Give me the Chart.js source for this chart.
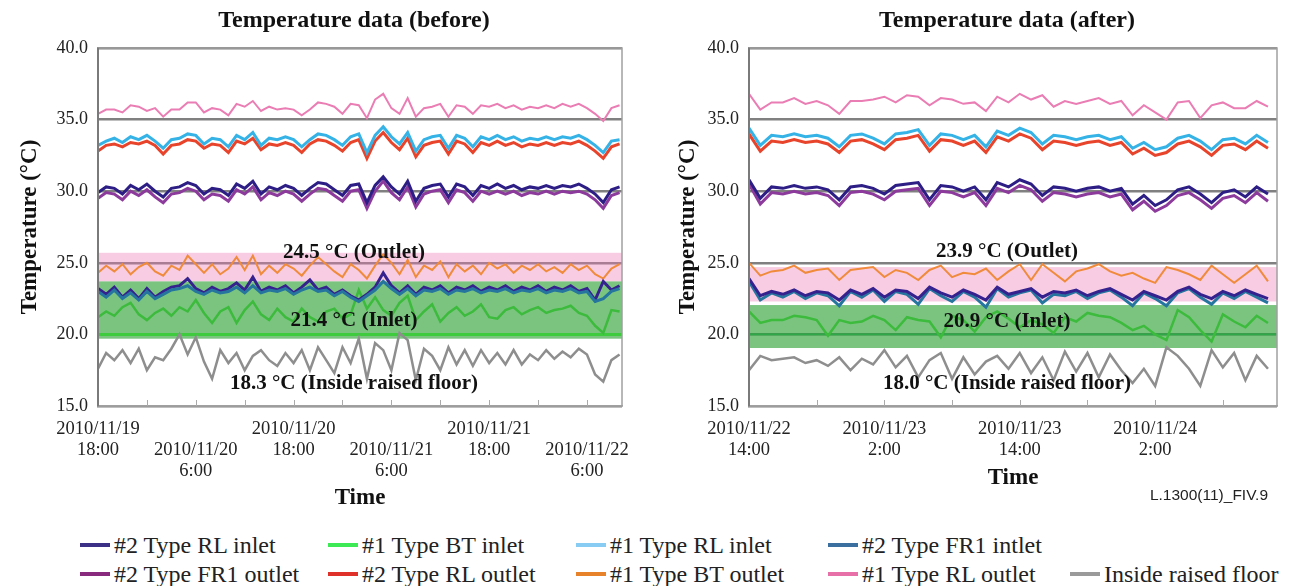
<!DOCTYPE html>
<html>
<head>
<meta charset="utf-8">
<script src="https://cdn.jsdelivr.net/npm/chart.js@4.4.1/dist/chart.umd.min.js"></script>
<style>
  body { margin: 0; background: #fff; width: 1292px; height: 586px; overflow: hidden; position: relative; font-family: "Liberation Serif", serif; }
  #left { position: absolute; left: 0; top: 0; width: 645px; height: 520px; }
  #right { position: absolute; left: 645px; top: 0; width: 647px; height: 520px; }
  .item { position: absolute; display: flex; align-items: center; font-size: 24px; line-height: 28px; color: #222; white-space: nowrap; }
  .swatch { width: 30px; height: 4px; margin-right: 4px; }
  #figid { position: absolute; right: 24px; top: 486px; font: 15.5px "Liberation Sans", sans-serif; color: #222; }
</style>
</head>
<body>
<div id="left"><canvas id="before"></canvas></div>
<div id="right"><canvas id="after"></canvas></div>
<div id="legend"></div>
<div id="figid">L.1300(11)_FIV.9</div>
<script>
const FONT = 'Liberation Serif'

// series shared by both panels (top navy line has no entry of its own in the legend)
const seriesNames = ['#1 Type RL outlet', '#1 Type RL inlet', '#2 Type RL outlet', '#2 Type RL (upper)', '#2 Type FR1 outlet',
  '#1 Type BT outlet', '#2 Type RL inlet', '#2 Type FR1 intlet', '#1 Type BT inlet', 'Inside raised floor']
const seriesColors = ['#ea7db3', '#35b2e6', '#e8432b', '#2d1e86', '#8c3b9c', '#f08b3c', '#36228e', '#25759f', '#3dbb3d', '#8e8e8e']
const seriesWidths = [2, 3, 3, 3, 3, 2, 3, 3, 2.5, 2.5]

// ---- before: one sample per hour from 2010/11/19 18:00 ----
const before_RL1_out = [35.4, 35.7, 35.7, 35.5, 36.0, 35.9, 35.6, 35.8, 35.2, 35.7,
  35.7, 36.2, 36.2, 35.5, 35.8, 35.7, 35.3, 36.1, 35.9, 36.3,
  35.6, 35.9, 35.7, 35.8, 35.7, 35.3, 35.7, 36.2, 36.1, 35.9,
  35.4, 36.1, 36.0, 35.1, 36.4, 36.8, 35.8, 35.4, 36.5, 35.2,
  35.8, 35.9, 36.1, 35.2, 36.0, 35.9, 35.4, 36.0, 35.9, 36.1,
  35.8, 36.0, 35.7, 35.9, 35.8, 36.0, 35.8, 36.1, 35.9, 36.1,
  35.8, 35.4, 34.9, 35.8, 36.0]
const before_RL1_in = [33.2, 33.5, 33.7, 33.4, 33.8, 33.6, 33.9, 33.5, 33.0, 33.6,
  33.7, 34.0, 33.9, 33.3, 33.7, 33.6, 33.1, 33.9, 33.6, 34.1,
  33.2, 33.7, 33.6, 33.8, 33.6, 33.1, 33.6, 34.0, 33.9, 33.6,
  33.2, 33.8, 34.0, 32.7, 33.9, 34.5, 33.8, 33.3, 34.1, 32.8,
  33.6, 33.8, 33.9, 33.0, 33.9, 33.7, 33.1, 33.8, 33.6, 33.9,
  33.6, 33.8, 33.5, 33.7, 33.6, 33.8, 33.6, 33.8, 33.7, 33.9,
  33.6, 33.2, 32.7, 33.5, 33.6]
const before_RL2_out = [32.8, 33.2, 33.3, 33.1, 33.4, 33.3, 33.5, 33.2, 32.6, 33.2,
  33.3, 33.6, 33.5, 33.0, 33.3, 33.2, 32.7, 33.5, 33.3, 33.7,
  32.9, 33.3, 33.2, 33.4, 33.2, 32.7, 33.3, 33.6, 33.5, 33.2,
  32.8, 33.4, 33.6, 32.3, 33.5, 34.1, 33.4, 32.9, 33.7, 32.4,
  33.2, 33.4, 33.5, 32.6, 33.5, 33.3, 32.7, 33.4, 33.2, 33.5,
  33.2, 33.4, 33.1, 33.3, 33.2, 33.4, 33.2, 33.4, 33.3, 33.5,
  33.2, 32.8, 32.3, 33.1, 33.3]
const before_RL2_hi = [29.9, 30.3, 30.2, 29.8, 30.4, 30.1, 30.5, 30.0, 29.6, 30.2,
  30.3, 30.6, 30.4, 29.8, 30.2, 30.1, 29.7, 30.5, 30.2, 30.7,
  29.8, 30.3, 30.1, 30.4, 30.2, 29.7, 30.2, 30.6, 30.5, 30.1,
  29.7, 30.4, 30.5, 29.2, 30.4, 31.0, 30.3, 29.8, 30.7, 29.3,
  30.2, 30.4, 30.5, 29.6, 30.5, 30.3, 29.7, 30.4, 30.2, 30.5,
  30.2, 30.4, 30.1, 30.3, 30.2, 30.4, 30.2, 30.4, 30.3, 30.5,
  30.2, 29.8, 29.2, 30.1, 30.3]
const before_FR1_out = [29.5, 29.9, 29.8, 29.4, 30.0, 29.7, 30.1, 29.6, 29.2, 29.8,
  29.9, 30.2, 30.0, 29.4, 29.8, 29.7, 29.3, 30.1, 29.8, 30.3,
  29.4, 29.9, 29.7, 30.0, 29.8, 29.3, 29.8, 30.2, 30.1, 29.7,
  29.3, 30.0, 30.1, 28.8, 30.0, 30.7, 29.9, 29.4, 30.3, 28.9,
  29.8, 30.0, 30.1, 29.2, 30.1, 29.9, 29.3, 30.0, 29.8, 30.0,
  29.8, 30.0, 29.7, 29.9, 29.8, 30.0, 29.8, 30.0, 29.9, 30.0,
  29.8, 29.4, 28.8, 29.7, 29.9]
const before_BT1_out = [24.3, 24.8, 24.4, 24.9, 24.2, 24.7, 25.0, 24.4, 24.1, 24.8,
  24.5, 25.5, 24.9, 24.3, 24.9, 24.2, 24.6, 25.4, 24.5, 25.5,
  24.2, 24.8, 24.3, 24.9, 24.6, 24.1, 24.8, 25.4, 24.9, 24.4,
  24.0, 24.9, 24.5, 23.9, 24.8, 25.6, 25.0, 24.2, 25.2, 24.0,
  24.8, 24.5, 25.1, 24.0, 24.9, 24.4, 24.8, 24.2, 25.0, 24.6,
  24.9, 24.3, 24.8, 24.5, 24.9, 24.4, 24.7, 24.3, 24.9, 24.5,
  24.8, 24.2, 23.9, 24.6, 24.9]
const before_RL2_in = [23.2, 22.8, 23.3, 22.6, 23.1, 22.5, 23.2, 22.6, 23.0, 23.3,
  23.4, 23.9, 23.2, 22.9, 23.3, 23.0, 23.2, 23.6, 23.1, 24.0,
  23.0, 23.3, 23.1, 23.4, 22.9, 23.3, 23.8, 23.1, 23.3, 22.8,
  23.1, 22.7, 22.4, 22.8, 23.3, 24.3, 23.4, 22.9, 23.4, 22.8,
  23.3, 23.1, 23.4, 22.9, 23.3, 23.1, 23.4, 23.0, 23.3, 23.1,
  23.4, 23.0, 23.3, 23.1, 23.4, 23.0, 23.3, 23.1, 23.4, 23.0,
  23.2, 22.4, 23.7, 23.1, 23.4]
const before_FR1_in = [23.0, 22.6, 23.1, 22.5, 22.9, 22.4, 23.0, 22.5, 22.8, 23.1,
  23.2, 23.4, 23.0, 22.8, 23.1, 22.9, 23.0, 23.3, 22.9, 23.4,
  22.9, 23.1, 23.0, 23.2, 22.8, 23.1, 23.3, 23.0, 23.1, 22.7,
  23.0, 22.6, 22.3, 22.7, 23.1, 23.7, 23.2, 22.8, 23.2, 22.7,
  23.1, 23.0, 23.2, 22.8, 23.1, 23.0, 23.2, 22.9, 23.1, 23.0,
  23.2, 22.9, 23.1, 23.0, 23.2, 22.9, 23.1, 23.0, 23.2, 22.9,
  23.0, 22.3, 22.5, 23.0, 23.2]
const before_BT1_in = [21.2, 21.6, 21.3, 21.9, 22.2, 21.4, 21.0, 21.5, 21.8, 21.3,
  21.9, 21.6, 22.4, 21.5, 20.8, 21.6, 21.9, 20.8, 21.7, 22.3,
  21.4, 21.0, 21.8, 21.2, 20.9, 21.8, 21.2, 20.9, 21.6, 21.8,
  21.1, 21.4, 23.1, 21.8, 22.6, 21.7, 21.3, 22.2, 22.7, 21.0,
  21.6, 22.1, 20.9, 21.5, 21.9, 21.3, 21.6, 22.1, 21.2, 21.1,
  21.7, 21.9, 21.4, 21.7, 21.9, 21.5, 21.7, 21.8, 22.0, 21.5,
  21.3, 20.6, 20.1, 21.7, 21.6]
const before_floor = [17.6, 18.7, 18.2, 18.9, 18.0, 19.0, 17.5, 18.4, 18.2, 19.0,
  20.0, 18.6, 19.8, 18.1, 16.9, 18.9, 18.0, 18.7, 17.5, 18.5,
  18.9, 18.2, 17.8, 18.7, 18.0, 18.9, 17.5, 19.1, 18.2, 17.3,
  19.1, 18.0, 19.7, 16.9, 19.4, 18.9, 17.5, 20.1, 19.6, 16.8,
  19.0, 18.5, 17.5, 19.1, 17.9, 18.9, 17.8, 18.9, 18.0, 18.7,
  17.9, 18.9, 17.9, 18.6, 18.2, 18.9, 18.3, 18.8, 18.4, 19.0,
  18.6, 17.2, 16.7, 18.2, 18.6]

// ---- after: one sample per hour from 2010/11/22 14:00 ----
const after_RL1_out = [36.8, 35.7, 36.2, 36.2, 36.5, 36.1, 36.3, 36.0, 35.4, 36.3,
  36.3, 36.4, 36.6, 36.2, 36.7, 36.6, 36.0, 36.5, 36.4, 36.1,
  36.2, 35.6, 36.6, 36.2, 36.8, 36.4, 36.7, 35.9, 36.3, 36.1,
  36.3, 36.5, 36.1, 36.3, 35.3, 36.0, 35.5, 35.0, 36.2, 36.3,
  35.1, 36.0, 36.2, 35.8, 35.8, 36.3, 35.9]
const after_RL1_in = [34.4, 33.2, 33.9, 33.8, 34.0, 33.8, 33.9, 33.7, 33.1, 33.9,
  34.0, 33.7, 33.3, 34.0, 34.1, 34.3, 33.2, 34.0, 33.9, 33.6,
  33.9, 33.1, 34.2, 33.9, 34.4, 34.1, 33.3, 33.9, 33.8, 33.6,
  33.8, 33.9, 33.6, 33.8, 33.0, 33.4, 32.9, 33.1, 33.7, 33.9,
  33.5, 32.9, 33.6, 33.7, 33.3, 33.9, 33.4]
const after_RL2_out = [34.0, 32.8, 33.5, 33.4, 33.6, 33.4, 33.5, 33.3, 32.7, 33.5,
  33.6, 33.3, 32.9, 33.6, 33.7, 33.9, 32.8, 33.6, 33.5, 33.2,
  33.5, 32.7, 33.8, 33.5, 34.0, 33.7, 32.9, 33.5, 33.4, 33.2,
  33.4, 33.5, 33.2, 33.4, 32.6, 33.0, 32.5, 32.7, 33.3, 33.5,
  33.1, 32.5, 33.2, 33.3, 32.9, 33.5, 33.0]
const after_RL2_hi = [30.8, 29.5, 30.3, 30.2, 30.4, 30.2, 30.3, 30.1, 29.4, 30.3,
  30.4, 30.2, 29.8, 30.4, 30.5, 30.6, 29.4, 30.4, 30.3, 30.0,
  30.3, 29.4, 30.6, 30.3, 30.8, 30.5, 29.7, 30.3, 30.2, 30.0,
  30.2, 30.3, 30.0, 30.2, 29.1, 29.7, 29.0, 29.4, 30.1, 30.3,
  29.8, 29.2, 29.9, 30.1, 29.6, 30.3, 29.8]
const after_FR1_out = [30.5, 29.1, 29.9, 29.8, 30.0, 29.8, 29.9, 29.7, 29.0, 29.9,
  30.0, 29.8, 29.4, 30.0, 30.1, 30.2, 29.0, 30.0, 29.9, 29.6,
  29.9, 29.0, 30.2, 29.9, 30.4, 30.1, 29.3, 29.9, 29.8, 29.6,
  29.8, 29.9, 29.6, 29.8, 28.7, 29.3, 28.6, 29.0, 29.7, 29.9,
  29.4, 28.8, 29.5, 29.7, 29.2, 29.9, 29.3]
const after_BT1_out = [25.0, 24.1, 24.4, 24.5, 24.8, 24.3, 24.5, 24.6, 23.8, 24.5,
  24.6, 24.7, 24.0, 24.5, 24.3, 23.8, 24.5, 24.8, 24.0, 24.3,
  24.2, 24.6, 23.8, 24.4, 24.9, 23.8, 24.9, 24.3, 23.7, 24.4,
  24.6, 24.9, 24.4, 24.1, 24.3, 23.9, 23.6, 24.7, 24.5, 24.2,
  23.8, 24.8, 24.2, 23.6, 24.2, 24.8, 23.7]
const after_RL2_in = [23.9, 22.7, 23.0, 22.8, 23.1, 22.7, 23.0, 22.9, 22.4, 23.1,
  22.8, 23.2, 22.6, 23.1, 23.0, 22.5, 23.3, 22.9, 22.6, 23.1,
  22.8, 22.4, 23.3, 22.8, 23.0, 23.2, 22.6, 23.0, 22.9, 23.1,
  22.7, 23.0, 23.2, 22.8, 22.4, 23.0, 22.7, 22.4, 23.0, 23.3,
  22.8, 22.5, 23.0, 22.7, 23.1, 22.8, 22.5]
const after_FR1_in = [23.7, 22.4, 22.9, 22.6, 23.0, 22.5, 22.9, 22.7, 22.0, 23.0,
  22.6, 23.1, 22.3, 23.0, 22.8, 22.1, 23.2, 22.7, 22.3, 23.0,
  22.6, 21.9, 23.2, 22.6, 22.9, 23.1, 22.2, 22.8, 22.7, 23.0,
  22.5, 22.9, 23.1, 22.6, 22.0, 22.9, 22.5, 22.0, 22.9, 23.2,
  22.6, 22.1, 22.9, 22.5, 23.0, 22.6, 22.2]
const after_BT1_in = [21.6, 20.8, 21.0, 21.0, 21.3, 21.2, 21.0, 19.9, 21.0, 20.8,
  20.9, 21.3, 21.0, 20.3, 21.2, 21.0, 20.9, 19.8, 21.3, 21.0,
  20.2, 21.2, 21.6, 21.1, 20.5, 21.0, 20.7, 20.1, 21.2, 20.9,
  21.5, 21.3, 21.2, 20.8, 20.3, 20.6, 20.0, 19.6, 21.7, 21.2,
  20.3, 19.5, 21.4, 20.9, 20.5, 21.3, 20.8]
const after_floor = [17.5, 18.5, 18.2, 18.3, 18.4, 18.0, 18.2, 17.8, 18.4, 17.5,
  18.3, 17.9, 18.9, 17.7, 18.5, 17.0, 18.2, 18.7, 16.9, 18.4,
  17.2, 18.1, 18.5, 17.6, 18.7, 17.3, 18.4, 16.8, 18.8, 17.4,
  18.7, 17.0, 18.6, 17.5, 16.6, 17.6, 16.4, 19.1, 18.5, 17.6,
  16.4, 18.9, 17.7, 18.7, 16.8, 18.5, 17.6]

// x tick labels, one per 12 hours
const beforeTickLabels = [['2010/11/19', '18:00'], ['2010/11/20', '6:00'], ['2010/11/20', '18:00'],
  ['2010/11/21', '6:00'], ['2010/11/21', '18:00'], ['2010/11/22', '6:00']]
const afterTickLabels = [['2010/11/22', '14:00'], ['2010/11/23', '2:00'], ['2010/11/23', '14:00'], ['2010/11/24', '2:00']]

// averages shown on the plots and the bands round them
const beforeNotes = ['24.5 °C (Outlet)', '21.4 °C (Inlet)', '18.3 °C (Inside raised floor)']
const afterNotes = ['23.9 °C (Outlet)', '20.9 °C (Inlet)', '18.0 °C (Inside raised floor)']
const beforeOutletBand = [23.7, 25.7]
const beforeInletBand = [19.7, 23.7]
const afterOutletBand = [22.3, 24.7]
const afterInletBand = [19.05, 22.05]

const legendLabels = ['#2 Type RL inlet', '#1 Type BT inlet', '#1 Type RL inlet', '#2 Type FR1 intlet',
  '#2 Type FR1 outlet', '#2 Type RL outlet', '#1 Type BT outlet', '#1 Type RL outlet', 'Inside raised floor']
const legendColors = ['#3b2f86', '#3dea55', '#88ccf3', '#3a6f9f', '#8a2a7f', '#e0302a', '#e8822a', '#e870a8', '#9a9a9a']

function makeDatasets(values, order) {
  return values.map((vals, k) => ({
    label: seriesNames[k],
    data: vals.map((v, i) => ({ x: i, y: v })),
    borderColor: seriesColors[k],
    borderWidth: seriesWidths[k],
    order: order[k],
    pointRadius: 0,
    tension: 0,
    fill: false
  }))
}

function panelPlugin(p) {
  return {
    id: 'panel',
    beforeDatasetsDraw(chart) {
      const { ctx, chartArea: a, scales: { y } } = chart
      ctx.save()
      const band = (r, color) => {
        const y1 = y.getPixelForValue(r[1]), y0 = y.getPixelForValue(r[0])
        ctx.fillStyle = color
        ctx.fillRect(a.left, y1, a.right - a.left, y0 - y1)
      }
      band(p.outletBand, 'rgba(236,120,178,0.38)')
      band(p.inletBand, 'rgba(40,160,50,0.62)')
      const yl = y.getPixelForValue(20)
      ctx.strokeStyle = p.lineColor
      ctx.lineWidth = p.lineWidth
      ctx.beginPath(); ctx.moveTo(a.left, yl); ctx.lineTo(a.right, yl); ctx.stroke()
      ctx.restore()
    },
    afterDatasetsDraw(chart) {
      const { ctx, chartArea: a, scales: { x, y } } = chart
      ctx.save()
      // frame
      ctx.strokeStyle = '#a0a0a0'
      ctx.lineWidth = 1.5
      ctx.strokeRect(a.left, a.top, a.right - a.left, a.bottom - a.top)
      ctx.strokeStyle = '#7a7a7a'
      ctx.lineWidth = 2
      ctx.beginPath(); ctx.moveTo(a.left, a.top); ctx.lineTo(a.left, a.bottom); ctx.stroke()
      // small inner tick marks every 6 hours
      ctx.strokeStyle = '#aaa'
      ctx.lineWidth = 1
      x.ticks.forEach(t => {
        if (t.value <= 0) return
        const px = Math.round(x.getPixelForValue(t.value)) + 0.5
        ctx.beginPath(); ctx.moveTo(px, a.bottom); ctx.lineTo(px, a.bottom - 6); ctx.stroke()
      })
      // notes and title
      const cx = (a.left + a.right) / 2 - 6
      ctx.fillStyle = '#111'
      ctx.textAlign = 'center'
      ctx.textBaseline = 'middle'
      ctx.font = 'bold 21px "' + FONT + '"'
      p.notes.forEach((n, i) => ctx.fillText(n, cx, y.getPixelForValue(p.notePos[i])))
      ctx.font = 'bold 24px "' + FONT + '"'
      ctx.fillText(p.title, cx, 21)
      ctx.restore()
    }
  }
}

function makeChart(id, p) {
  return new Chart(document.getElementById(id), {
    type: 'line',
    data: { datasets: makeDatasets(p.values, p.order) },
    options: {
      responsive: true,
      maintainAspectRatio: false,
      animation: false,
      events: [],
      layout: { padding: { top: 48, right: p.padRight, bottom: 0, left: 0 } },
      plugins: { legend: { display: false }, tooltip: { enabled: false }, title: { display: false } },
      scales: {
        x: {
          type: 'linear', min: 0, max: p.span,
          grid: { display: false, drawTicks: false },
          border: { color: '#a0a0a0', width: 1.5 },
          ticks: {
            stepSize: 6, autoSkip: false, maxRotation: 0, includeBounds: false, padding: 13,
            color: '#222', font: { family: FONT, size: 18.5, lineHeight: 1.12 },
            callback: v => {
              if (v % 12) return ''
              const i = v / 12
              const lab = p.tickLabels[i]
              if (!lab) return ''
              return p.stagger && i % 2 ? [''].concat(lab) : lab
            }
          },
          title: { display: true, text: 'Time', color: '#111', font: { family: FONT, size: 23, weight: 'bold' },
            padding: { top: 0, bottom: p.timePad } },
          afterFit: s => { s.height = 114 }
        },
        y: {
          min: 15, max: 40,
          grid: { color: '#808080', lineWidth: 2.5, drawTicks: false },
          border: { color: '#7a7a7a', width: 2 },
          ticks: { stepSize: 5, padding: 10, color: '#222', font: { family: FONT, size: 18 }, callback: v => v.toFixed(1) },
          title: { display: true, text: 'Temperature (°C)', color: '#111', font: { family: FONT, size: 23, weight: 'bold' },
            padding: { top: p.yTitlePad, bottom: 0 } },
          afterFit: s => { s.width = p.yWidth }
        }
      }
    },
    plugins: [panelPlugin(p)]
  })
}

makeChart('before', {
  title: 'Temperature data (before)',
  values: [before_RL1_out, before_RL1_in, before_RL2_out, before_RL2_hi, before_FR1_out,
    before_BT1_out, before_RL2_in, before_FR1_in, before_BT1_in, before_floor],
  order: [5, 2, 3, 4, 6, 7, 1, 0, 8, 9],
  span: 64.3, tickLabels: beforeTickLabels, stagger: true,
  notes: beforeNotes, notePos: [25.7, 20.95, 16.6],
  outletBand: beforeOutletBand, inletBand: beforeInletBand, lineColor: '#3ecb3e', lineWidth: 3,
  padRight: 23, yWidth: 98, yTitlePad: 16, timePad: 8
})

makeChart('after', {
  title: 'Temperature data (after)',
  values: [after_RL1_out, after_RL1_in, after_RL2_out, after_RL2_hi, after_FR1_out,
    after_BT1_out, after_RL2_in, after_FR1_in, after_BT1_in, after_floor],
  order: [5, 2, 3, 4, 6, 7, 0, 1, 8, 9],
  span: 46.8, tickLabels: afterTickLabels, stagger: false,
  notes: afterNotes, notePos: [25.75, 20.87, 16.6],
  outletBand: afterOutletBand, inletBand: afterInletBand, lineColor: '#2fa84a', lineWidth: 1.6,
  padRight: 15, yWidth: 104, yTitlePad: 29, timePad: 28
})

// legend under both panels
const legendCols = [80, 328, 576, 828, 1070]
const legendRows = [545, 574]
const legendBox = document.getElementById('legend')
legendLabels.forEach((name, i) => {
  const row = i < 4 ? 0 : 1
  const col = i < 4 ? i : i - 4
  const item = document.createElement('div')
  item.className = 'item'
  item.style.left = legendCols[col] + 'px'
  item.style.top = (legendRows[row] - 14) + 'px'
  item.innerHTML = '<span class="swatch" style="background:' + legendColors[i] + '"></span>' + name
  legendBox.appendChild(item)
})
</script>
</body>
</html>
